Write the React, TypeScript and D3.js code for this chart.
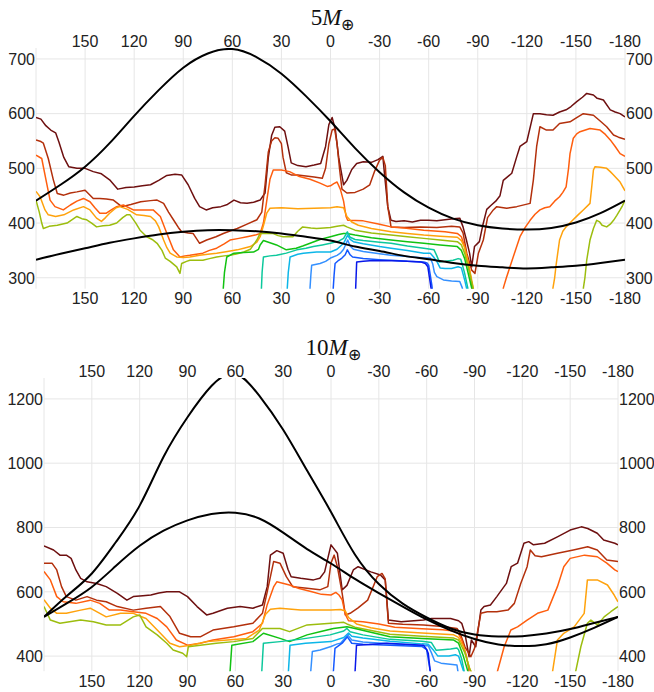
import React, { useEffect, useRef } from 'react';
import * as d3 from 'd3';

type Pt = [number, number];

// longitude grid / labels (shared by both panels)
const LON_GRID = [180, 150, 120, 90, 60, 30, 0, -30, -60, -90, -120, -150, -180];
const LON_LABELS = [150, 120, 90, 60, 30, 0, -30, -60, -90, -120, -150, -180];

const Y_TICKS_5 = [300, 400, 500, 600, 700];
const Y_TICKS_10 = [400, 600, 800, 1000, 1200];

const LINE_COLORS = [
  '#6e1010', '#b3300c', '#ff5e0e', '#ffa20c', '#9cbd0e', '#12c212',
  '#0cc89c', '#0cb6e8', '#3490ff', '#1458ff', '#0818ea',
];

// ---------- 5 M_earth ----------
const p5Maroon: Pt[] = [
  [180,593],[177,590],[174,578],[171,570],[168,565],[166,548],[163,520],[160,503],[155,500],[150,500],[145,494],[140,490],[135,479],[130,462],[125,465],[120,466],[115,468],[110,470],[105,478],[100,487],[95,489],[91,488],[87,470],[83,445],[80,430],[76,424],[72,428],[67,430],[63,434],[59,442],[55,437],[51,436],[47,438],[43,442],[40,455],[38,520],[36,560],[34,575],[31,576],[28,568],[26,540],[24,510],[20,505],[15,503],[10,506],[6,509],[3,540],[1,580],[-1,593],[-3,570],[-5,520],[-8,470],[-10,478],[-13,498],[-16,509],[-20,512],[-25,511],[-29,516],[-32,522],[-33,490],[-35,430],[-37,405],[-40,403],[-45,404],[-50,402],[-55,405],[-60,405],[-65,404],[-70,406],[-75,408],[-79,409],[-81,393],[-83,370],[-85,345],[-86.3,320],[-88,357],[-91,366],[-93,395],[-95.5,425],[-98,432],[-101,440],[-103.6,450],[-105.6,478],[-110.8,491],[-113.8,521],[-115.8,540],[-120,549],[-124,600],[-128,600],[-132,598],[-136,597],[-140,603],[-144,607],[-147,613],[-150.5,622],[-154,630],[-156.6,637],[-160.7,634],[-163,628],[-166.8,625],[-171,607],[-174,603],[-177,600],[-180,594],
];
const p5Brown: Pt[] = [
  [180,552],[177,549],[175.5,546],[172.5,518],[169.4,479],[167,454],[163,451],[159,455],[155,457],[150,460],[145,445],[141,445],[137,444],[132.7,442],[127.6,430],[122,434],[116,439],[110,441],[106,442],[102,436],[99,420],[96,406],[93,392],[91,384],[87,382],[84,381],[80,363],[75.7,369],[70,375],[65.5,381],[61,386],[57,390],[51,398],[45,406],[42,420],[40,470],[38,530],[36,550],[34,556],[32,555],[30,545],[29,520],[27,492],[24,488],[20,488],[15,486],[10,484],[5,482],[3,500],[1,545],[-1,570],[-2.5,572],[-4,545],[-5.5,500],[-7,462],[-10,455],[-15,456],[-20,462],[-24,470],[-27,495],[-30,515],[-32,520],[-33.5,505],[-35,430],[-37,393],[-45,392],[-55,393],[-65,392],[-74,394],[-79,393],[-81,382],[-83.3,345],[-86.3,314],[-88.3,308],[-90.4,345],[-93.4,369],[-96,410],[-99.5,424],[-101.6,430],[-107.7,427],[-113.8,430],[-122,436],[-124,479],[-126,540],[-128,576],[-132,570],[-136,570],[-140,582],[-146.4,585],[-150,592],[-154.5,600],[-160.7,597],[-165,586],[-168.8,576],[-173,561],[-176,557],[-180,553],
];
const p5OrangeRed: Pt[] = [
  [180,524],[176.5,518],[173.5,473],[171.4,442],[168.4,430],[163.3,424],[159,433],[155,440],[151,445],[147,439],[144,428],[141,418],[137,418],[133.5,425],[130.7,430],[126.6,433],[120.5,424],[116,424],[112,424],[108.4,424],[104,412],[100,381],[96,351],[92,338],[89,340],[86,341],[82,343],[78,345],[74,350],[69.6,354],[65,362],[61.4,369],[56,372],[51,375],[46,378],[43,381],[41,400],[39,440],[37,480],[35,497],[30,497],[25,494],[19,485],[12.5,480],[6.4,473],[2,467],[0,468],[-2,472],[-4,475],[-6,462],[-8,440],[-9.5,412],[-10.5,405],[-20,404],[-30,398],[-37,393],[-45,391],[-57,387],[-70,384],[-77.5,381],[-80,375],[-82,357],[-84,330],[-85.7,302],[-87,270],[-104,250],[-105.7,282],[-107.5,300],[-109.7,320],[-113,350],[-115.8,375],[-119,392],[-122,405],[-125,416],[-128,424],[-131,428],[-134,430],[-137,440],[-140,448],[-142,456],[-144,466],[-145.5,500],[-146.4,527],[-148.4,555],[-150.5,563],[-152.5,567],[-158.6,573],[-164.8,570],[-168,562],[-171,552],[-174,540],[-177,527],[-180,522],
];
const p5Orange: Pt[] = [
  [180,458],[177.5,448],[174.5,424],[172.5,415],[168,412],[163,415],[157,424],[151,430],[147,424],[143,409],[140,403],[137.5,410],[135,418],[131,428],[128.7,430],[124,425],[118.5,415],[114,414],[110,412],[107,404],[105,393],[102,369],[100,355],[98,345],[94,338],[90,337],[86,338],[80,341],[75,343],[69.6,345],[63,348],[57,351],[53,354],[49,357],[45,365],[43,375],[41,395],[39,418],[37,427],[30,428],[20,426],[10,427],[0,428],[-4,430],[-8,428],[-10,412],[-13,402],[-17,396],[-25,390],[-37,384],[-47,381],[-57,378],[-67,376],[-77.5,374],[-80,368],[-82,355],[-84,330],[-86,300],[-88,270],[-135,250],[-136,282],[-137,300],[-138,326],[-140,369],[-142,385],[-144,393],[-148,405],[-151,414],[-154.5,424],[-158.6,436],[-159.8,470],[-160.7,497],[-161.7,503],[-165,502],[-168.8,500],[-171,494],[-173,488],[-177,475],[-180,459],
];
const p5YellowGreen: Pt[] = [
  [180,442],[178,420],[176.5,400],[175.5,390],[172,394],[167,396],[161,400],[155,412],[152,408],[149,406],[146,400],[143,393],[139,395],[135,396],[130.7,400],[127,410],[124.6,415],[122.5,415],[119,400],[116.4,387],[112.3,375],[109,370],[106,363],[103,350],[101,336],[98,330],[94,320],[92,308],[91,326],[88,330],[86,332],[82,332],[78,332],[74,335],[69.6,338],[65,340],[61.4,341],[57,344],[53,347],[49,352],[45,369],[43,381],[39,381],[35,381],[32,377],[29,375],[23,375],[20,385],[17,393],[12,391],[8.5,390],[4,391],[0,392],[-4,394],[-8,396],[-10,393],[-15,387],[-25,382],[-37,378],[-47,375],[-57,372],[-67,369],[-77.5,366],[-80,360],[-82,345],[-84,322],[-86,296],[-88,270],[-154,250],[-154.6,282],[-155.5,300],[-156.6,332],[-158.6,369],[-160.7,390],[-162.7,405],[-164.5,402],[-166,396],[-168.8,393],[-171,398],[-173,405],[-175,414],[-177,424],[-178.5,432],[-180,442],
];
const p5Green: Pt[] = [
  [66,250],[65.5,282],[64.8,310],[63.4,338],[59,345],[53,346],[47,347],[44,352],[43,360],[41,368],[37,364],[33,360],[27,351],[21,354],[17,358],[12.5,363],[6.4,370],[0,375],[-5,379],[-8,381],[-10,381],[-15,378],[-25,373],[-37,369],[-47,366],[-57,363],[-67,360],[-77.5,357],[-80,350],[-82,335],[-84,310],[-86,285],[-88,260],
];
const p5Teal: Pt[] = [
  [42.6,250],[42.2,282],[41.8,310],[41,338],[37,340],[33,341],[27,345],[20.6,351],[15,354],[10.5,357],[5,360],[0,363],[-5,367],[-8,372],[-10.3,384],[-12,374],[-15,370],[-20,368],[-30,365],[-37,363],[-47,358],[-57,354],[-63.3,351],[-65,340],[-66.5,329],[-70,330],[-75,332],[-78,335],[-79.6,334],[-80.5,325],[-82,308],[-84,280],[-86,260],
];
const p5Cyan: Pt[] = [
  [26.8,250],[26.4,282],[25.8,310],[24.7,338],[20,343],[16.6,345],[8.5,347],[4,347],[0,347],[-4,352],[-8,363],[-10.5,378],[-12,370],[-14,366],[-20,362],[-30,357],[-37,354],[-47,350],[-57,345],[-61,345],[-63,338],[-65,330],[-67,318],[-70,317],[-74,317],[-78,320],[-80,318],[-82,296],[-84,270],
];
const p5LightBlue: Pt[] = [
  [12.8,250],[12.5,282],[12,305],[11.5,323],[6.4,326],[3,330],[0,336],[-4,341],[-6,345],[-8,352],[-10.5,369],[-12,358],[-14,352],[-20,348],[-30,344],[-37,341],[-47,339],[-57,336],[-61,336],[-62.5,325],[-63.5,310],[-65,302],[-69,296],[-74,294],[-79,293],[-80.5,282],[-82,260],
];
const p5Blue: Pt[] = [
  [-1.3,250],[-1.7,282],[-2.2,305],[-2.8,326],[-5,332],[-7,336],[-9,342],[-10.3,351],[-12,342],[-13.5,338],[-20,335],[-30,333],[-37,332],[-47,330],[-57,329],[-59,327],[-60,323],[-61,305],[-62,285],[-63,260],
];
const p5DarkBlue: Pt[] = [
  [-15,250],[-15.4,282],[-15.7,305],[-16,329],[-20,330],[-24,331],[-30,331],[-38,331],[-47,330],[-55,329],[-58,326],[-59.5,320],[-60.5,300],[-61.5,280],[-62.5,250],
];
const p5CurveA: Pt[] = [
  [180,441],[165,470],[150,503],[135,546],[120,596],[105,643],[90,684],[75,710],[60,718],[45,703],[30,673],[15,632],[0,586],[-15,537],[-30,493],[-45,456],[-60,428],[-75,408],[-90,396],[-105,390],[-120,388],[-135,391],[-150,401],[-165,418],[-180,441],
];
const p5CurveB: Pt[] = [
  [180,333],[165,344],[150,354],[135,364],[120,372],[105,379],[90,384],[75,387],[60,387],[45,385],[30,381],[15,375],[0,368],[-15,357],[-30,349],[-45,340],[-60,334],[-75,327],[-90,322],[-105,319],[-120,317],[-135,319],[-150,322],[-165,327],[-180,333],
];

// ---------- 10 M_earth ----------
const p10Maroon: Pt[] = [
  [180,743],[174,730],[170,714],[166,714],[163,704],[160,668],[157,642],[153,631],[147,626],[141,616],[134,595],[128,574],[124,585],[118,588],[113,590],[108,596],[103,600],[95,600],[90,585],[84,554],[78,528],[74,533],[70,540],[65,549],[57,554],[49,549],[43,559],[40,616],[38,714],[34,728],[30,720],[27,670],[25,647],[19,642],[11,637],[7,642],[4,662],[2,704],[0,746],[-4,720],[-7,606],[-10,620],[-14,668],[-17,678],[-25,662],[-31,652],[-34,637],[-36,512],[-44,507],[-58,512],[-63,517],[-75,517],[-80,510],[-82,502],[-84,470],[-86.6,398],[-88,450],[-90.8,429],[-94,543],[-96,554],[-100,559],[-104,585],[-110,626],[-113,678],[-117,689],[-121,751],[-124,756],[-127,746],[-134,751],[-142,771],[-150,792],[-157,802],[-161,797],[-167,782],[-171,761],[-178,751],[-180,746],
];
const p10Brown: Pt[] = [
  [180,689],[175,689],[172,668],[169,616],[166,585],[160,574],[153,585],[147,574],[141,569],[134,554],[124,543],[116,549],[107,554],[101,523],[95,471],[88,460],[82,460],[74,481],[61,491],[49,502],[43,533],[40,600],[36,694],[32,689],[28,647],[24,616],[15,611],[7,606],[2,616],[0,690],[-2,714],[-4,678],[-7,595],[-9,528],[-12,533],[-17,550],[-23,574],[-29,647],[-32,657],[-34,640],[-36,502],[-45,499],[-58,497],[-70,492],[-79,486],[-81,471],[-84,429],[-87.7,398],[-90,424],[-94,533],[-98,538],[-104,538],[-111,543],[-115,564],[-119,626],[-123,678],[-125,730],[-128,712],[-132,709],[-142,720],[-152,730],[-161,740],[-167,730],[-173,699],[-180,694],
];
const p10OrangeRed: Pt[] = [
  [180,663],[176,637],[172,585],[168,569],[160,564],[151,574],[145,564],[139,543],[132,543],[124,538],[116,533],[109,517],[103,491],[97,450],[90,434],[82,440],[74,450],[61,460],[49,476],[43,502],[40,560],[36,615],[34,631],[26,621],[20,610],[12,600],[6,592],[0,590],[-3,598],[-5,590],[-7,575],[-9,530],[-11,510],[-20,507],[-30,500],[-40,490],[-57,485],[-70,482],[-77,478],[-80,470],[-82,450],[-85,400],[-87,340],[-104,340],[-104.4,353],[-108.6,429],[-112.8,481],[-117,491],[-123,512],[-129.5,533],[-136,543],[-142,616],[-146,678],[-150,704],[-159,714],[-167,709],[-173,689],[-178,668],[-180,663],
];
const p10Orange: Pt[] = [
  [180,575],[176,549],[172,533],[166,533],[157,543],[151,549],[145,533],[141,522],[132,533],[124,533],[116,517],[107,471],[101,440],[95,429],[88,434],[78,445],[65,450],[53,455],[45,481],[41,530],[38,546],[32,549],[19,543],[0,543],[-6,545],[-9,540],[-11,520],[-16,500],[-25,488],[-37,478],[-57,472],[-77,466],[-80,458],[-83,430],[-87,360],[-89,340],[-138,340],[-139,353],[-142,450],[-146,471],[-152.5,491],[-158.8,533],[-160.8,637],[-167,637],[-173.4,621],[-177.6,590],[-180,569],
];
const p10YellowGreen: Pt[] = [
  [180,554],[176,512],[170,502],[157,512],[149,507],[141,497],[132,497],[124,522],[120,528],[116,491],[109,466],[103,440],[99,419],[93,409],[90.5,398],[89.5,429],[82,434],[72,440],[61,445],[49,455],[43,486],[32,486],[26,476],[15,497],[0,502],[-8,505],[-10,500],[-15,490],[-37,468],[-57,462],[-77,456],[-80,450],[-84,410],[-87,360],[-89,340],[-153,340],[-153.5,353],[-156.7,429],[-160.8,502],[-163,512],[-167,497],[-171.3,522],[-175.5,538],[-178.6,549],[-180,554],
];
const p10Green: Pt[] = [
  [64,340],[63.3,353],[62.2,434],[49,445],[42.4,471],[32,455],[26,445],[15,466],[7,476],[-1.5,486],[-10,491],[-15,486],[-37,460],[-57,455],[-77,450],[-80,440],[-83,400],[-86,350],[-88,330],
];
const p10Teal: Pt[] = [
  [44,340],[43.4,353],[42.4,440],[32,445],[20,452],[0.6,466],[-8,478],[-10,486],[-12,476],[-20,466],[-37,452],[-57,446],[-63,442],[-66,418],[-70,420],[-75,422],[-79,425],[-80,420],[-82,390],[-84,340],
];
const p10Cyan: Pt[] = [
  [27.2,340],[26.7,353],[25.7,434],[16,440],[0,445],[-8,458],[-11,472],[-13,462],[-20,456],[-37,446],[-57,438],[-61,437],[-64,420],[-67,400],[-74,400],[-78,404],[-80,400],[-82,370],[-84,340],
];
const p10LightBlue: Pt[] = [
  [13.2,340],[12.7,353],[11.7,414],[6.8,419],[0,430],[-4,438],[-6,440],[-10.5,466],[-13,450],[-20,444],[-37,438],[-57,432],[-61,432],[-63,410],[-65,385],[-69,378],[-79,372],[-80,340],
];
const p10Blue: Pt[] = [
  [-1,340],[-1.5,353],[-2.5,424],[-7,440],[-10.3,460],[-13,440],[-20,437],[-37,434],[-57,430],[-60,420],[-62,360],[-63,340],
];
const p10DarkBlue: Pt[] = [
  [-14.6,340],[-15.1,353],[-16,434],[-24,436],[-35,440],[-58,434],[-60,420],[-61,409],[-62.5,340],
];
const p10CurveA: Pt[] = [
  [180,522],[165,590],[150,657],[135,754],[120,868],[105,1020],[90,1143],[75,1240],[60,1278],[45,1210],[30,1104],[15,977],[0,848],[-15,716],[-30,624],[-45,563],[-60,520],[-75,486],[-90,467],[-105,461],[-120,462],[-135,470],[-150,484],[-165,503],[-180,522],
];
const p10CurveB: Pt[] = [
  [180,522],[165,566],[150,615],[135,680],[120,743],[105,790],[90,822],[75,842],[60,846],[45,828],[30,784],[15,733],[0,688],[-15,640],[-30,596],[-45,554],[-60,514],[-75,480],[-90,453],[-105,436],[-120,431],[-135,437],[-150,458],[-165,488],[-180,522],
];

interface Panel {
  mass: string;
  series: Pt[][];
  curves: Pt[][];
  yTicks: number[];
  yDomain: [number, number];
  left: number; right: number; top: number; bottom: number;
  titleY: number;
}

const PANELS: Panel[] = [
  {
    mass: '5',
    series: [p5Maroon, p5Brown, p5OrangeRed, p5Orange, p5YellowGreen, p5Green, p5Teal, p5Cyan, p5LightBlue, p5Blue, p5DarkBlue],
    curves: [p5CurveA, p5CurveB],
    yTicks: Y_TICKS_5,
    yDomain: [280, 720],
    left: 36, right: 625, top: 48, bottom: 288.7,
    titleY: 25,
  },
  {
    mass: '10',
    series: [p10Maroon, p10Brown, p10OrangeRed, p10Orange, p10YellowGreen, p10Green, p10Teal, p10Cyan, p10LightBlue, p10Blue, p10DarkBlue],
    curves: [p10CurveA, p10CurveB],
    yTicks: Y_TICKS_10,
    yDomain: [353, 1265],
    left: 44, right: 618, top: 378, bottom: 671.2,
    titleY: 355,
  },
];

const FONT = "'Liberation Sans', Arial, sans-serif";

const App: React.FC = () => {
  const svgRef = useRef<SVGSVGElement>(null);

  useEffect(() => {
    if (!svgRef.current) return;
    const svg = d3.select(svgRef.current);
    svg.selectAll('*').remove();

    PANELS.forEach((p, idx) => {
      const x = d3.scaleLinear().domain([180, -180]).range([p.left, p.right]);
      const y = d3.scaleLinear().domain(p.yDomain).range([p.bottom, p.top]);
      const g = svg.append('g');
      const clipId = `clip-${idx}`;

      g.append('clipPath').attr('id', clipId)
        .append('rect')
        .attr('x', p.left).attr('y', p.top)
        .attr('width', p.right - p.left).attr('height', p.bottom - p.top);

      // grid
      g.selectAll('.vgrid').data(LON_GRID).enter().append('line')
        .attr('x1', d => x(d)).attr('x2', d => x(d))
        .attr('y1', p.top).attr('y2', p.bottom)
        .attr('stroke', '#e6e6e6').attr('stroke-width', 1);
      g.selectAll('.hgrid').data(p.yTicks).enter().append('line')
        .attr('x1', p.left).attr('x2', p.right)
        .attr('y1', d => y(d)).attr('y2', d => y(d))
        .attr('stroke', '#e6e6e6').attr('stroke-width', 1);

      // tick labels
      const lab = g.append('g').attr('font-family', FONT).attr('font-size', 16).attr('fill', '#222');
      lab.selectAll('.tl').data(LON_LABELS).enter().append('text')
        .attr('x', d => x(d)).attr('y', p.top - 0.8)
        .attr('text-anchor', 'middle').text(d => String(d));
      lab.selectAll('.bl').data(LON_LABELS).enter().append('text')
        .attr('x', d => x(d)).attr('y', p.bottom + 15.5)
        .attr('text-anchor', 'middle').text(d => String(d));
      lab.selectAll('.ll').data(p.yTicks).enter().append('text')
        .attr('x', p.left - 1).attr('y', d => y(d)).attr('dy', '0.36em')
        .attr('text-anchor', 'end').text(d => String(d));
      lab.selectAll('.rl').data(p.yTicks).enter().append('text')
        .attr('x', p.right + 1).attr('y', d => y(d)).attr('dy', '0.36em')
        .attr('text-anchor', 'start').text(d => String(d));

      const plot = g.append('g').attr('clip-path', `url(#${clipId})`);
      const line = d3.line<Pt>().x(d => x(d[0])).y(d => y(d[1]));

      p.series.forEach((s, i) => {
        plot.append('path').datum(s)
          .attr('d', line)
          .attr('fill', 'none')
          .attr('stroke', LINE_COLORS[i])
          .attr('stroke-width', 1.5)
          .attr('stroke-linejoin', 'round');
      });

      const smooth = d3.line<Pt>().x(d => x(d[0])).y(d => y(d[1])).curve(d3.curveNatural);
      p.curves.forEach(c => {
        plot.append('path').datum(c)
          .attr('d', smooth)
          .attr('fill', 'none')
          .attr('stroke', '#000')
          .attr('stroke-width', 2);
      });

      // title: {mass} M_⊕
      const t = g.append('text')
        .attr('x', (p.left + p.right) / 2 + 2).attr('y', p.titleY)
        .attr('text-anchor', 'middle')
        .attr('font-family', "'Liberation Serif', 'DejaVu Serif', serif")
        .attr('font-size', 23).attr('fill', '#111');
      t.append('tspan').text(p.mass);
      t.append('tspan').attr('font-style', 'italic').text('M');
      t.append('tspan')
        .attr('font-family', "'DejaVu Sans', sans-serif")
        .attr('font-size', 16).attr('font-weight', 300).attr('dy', 5).text('\u2295');
    });
  }, []);

  return (
    <svg
      ref={svgRef}
      width={654}
      height={692}
      style={{ position: 'absolute', left: 0, top: 0, background: '#fff' }}
    />
  );
};

export default App;
